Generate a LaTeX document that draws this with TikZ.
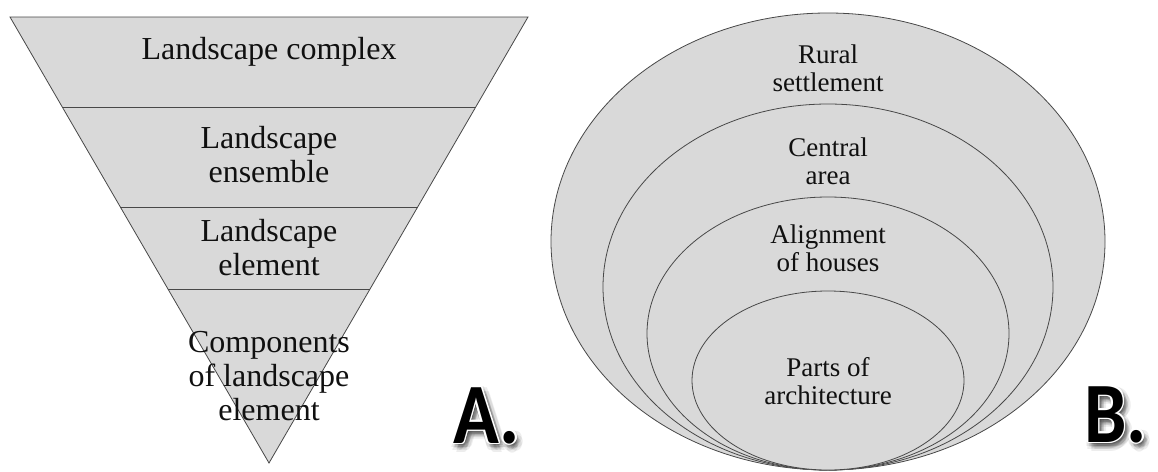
\documentclass[tikz,border=0pt]{standalone}
\usepackage{fontspec}
\setmainfont{Liberation Serif}
\newfontfamily\labfont{Carlito}
\usetikzlibrary{calc}
\definecolor{shade}{HTML}{D9D9D9}
\definecolor{edge}{HTML}{484848}
\definecolor{ink}{HTML}{101010}
\tikzset{
  part/.style={fill=shade, draw=edge, line width=0.8pt, line join=miter},
  sep/.style={draw=edge, line width=0.8pt},
  ring/.style={fill=shade, draw=edge, line width=0.8pt},
  tritext/.style={anchor=base, inner sep=0pt, text=ink,
    font=\fontsize{32}{34}\selectfont},
  elltext/.style={anchor=base, inner sep=0pt, text=ink,
    font=\fontsize{27}{28.5}\selectfont},
  lab/.style={anchor=base west, inner sep=0pt, font=\labfont\bfseries\fontsize{86}{86}\selectfont, xscale=0.88}
}
\newcommand{\stack}[1]{\begingroup\setlength{\tabcolsep}{0pt}\renewcommand{\arraystretch}{1}\begin{tabular}[t]{c}#1\end{tabular}\endgroup}
\newcommand{\fancylabel}[3]{%
  \foreach \a in {0,45,...,315}{\foreach \r in {2,5}{%
    \node[lab, text=black, text opacity=0.07] at ($(#2)+(\a:\r)+(3,4)$) {#3};}}
  \foreach \a in {0,30,...,330}{%
    \node[lab, text=white] at ($(#2)+(\a:1.8)$) {#3};}
  \node[lab, text=black] (#1) at (#2) {#3};
}
\begin{document}
\begin{tikzpicture}[x=1pt,y=-1pt]
\useasboundingbox[fill=white] (0,0) rectangle (1158,471);

% ---- A: inverted triangle ----
\coordinate (tl) at (10,17);
\coordinate (tr) at (528,17);
\coordinate (apex) at (269,463);
\draw[part] (tl) -- (tr) -- (apex) -- cycle;
\draw[sep] ($(tl)!0.2018!(apex)$) -- ($(tr)!0.2018!(apex)$);
\draw[sep] ($(tl)!0.4260!(apex)$) -- ($(tr)!0.4260!(apex)$);
\draw[sep] ($(tl)!0.6099!(apex)$) -- ($(tr)!0.6099!(apex)$);

\node[tritext] (complex) at (269,59) {Landscape complex};
\node[tritext] (ensemble) at (269,148) {\stack{Landscape\\ensemble}};
\node[tritext] (element) at (269,241) {\stack{Landscape\\element}};
\node[tritext] (components) at (269,352) {\stack{Components\\of landscape\\element}};

% ---- B: nested ellipses ----
\draw[ring] (828,241.5) ellipse [x radius=277, y radius=228.5];
\draw[ring] (828,287) ellipse [x radius=225, y radius=183];
\draw[ring] (828,333.5) ellipse [x radius=181, y radius=136.5];
\draw[ring] (828,380.5) ellipse [x radius=136, y radius=89.5];

\node[elltext] (rural) at (828,63) {\stack{Rural\\settlement}};
\node[elltext] (central) at (828,156) {\stack{Central\\area}};
\node[elltext] (align) at (828,243) {\stack{Alignment\\of houses}};
\node[elltext] (parts) at (828,376) {\stack{Parts of\\architecture}};

% ---- panel labels ----
\coordinate (posA) at (453,443);
\coordinate (posB) at (1084,442);
\fancylabel{labA}{posA}{A.}
\fancylabel{labB}{posB}{B.}
\end{tikzpicture}
\end{document}
